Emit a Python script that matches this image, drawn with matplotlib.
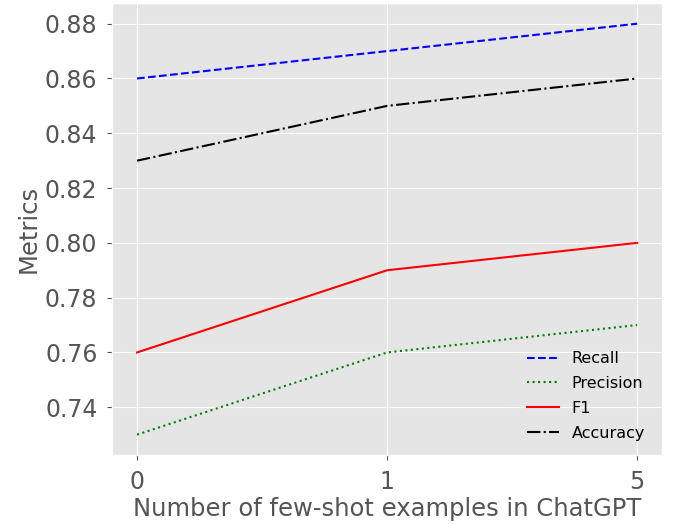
import numpy as np
import matplotlib.pyplot as plt

plt.style.use("ggplot")

shots = ["0", "1", "5"]
recall = [0.86, 0.87, 0.88]
precision = [0.73, 0.76, 0.77]
f1 = [0.76, 0.79, 0.80]
accuracy = [0.83, 0.85, 0.86]

x = np.arange(len(shots))

fig = plt.figure(figsize=(6.75, 5.25), dpi=100)
ax = fig.add_axes([0.166, 0.133, 0.815, 0.861])

ax.plot(x, recall, color="blue", linestyle="--", label="Recall")
ax.plot(x, precision, color="green", linestyle=":", label="Precision")
ax.plot(x, f1, color="red", linestyle="-", label="F1")
ax.plot(x, accuracy, color="black", linestyle="-.", label="Accuracy")

ax.set_xticks(x)
ax.set_xticklabels(shots)
ax.tick_params(axis="both", labelsize=17, pad=7)
ax.set_xlabel("Number of few-shot examples in ChatGPT", fontsize=17.5, labelpad=2)
ax.set_ylabel("Metrics", fontsize=17.5, labelpad=3)
ax.legend(loc="lower right", frameon=False, fontsize=11.5, labelspacing=0.62,
          bbox_to_anchor=(0.995, 0.0))

fig.savefig("out.png")
